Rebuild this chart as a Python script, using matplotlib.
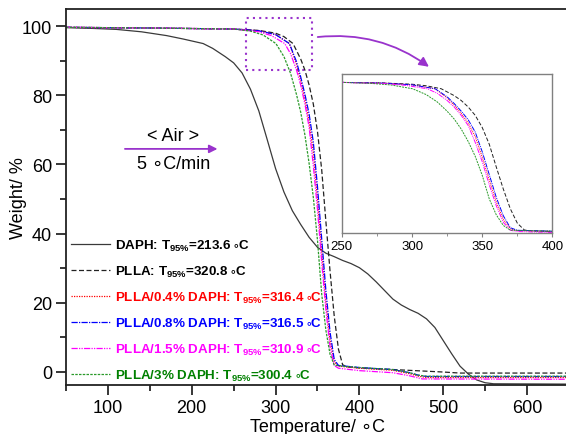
import matplotlib
matplotlib.use("Agg")
import matplotlib.pyplot as plt
from matplotlib.patches import Rectangle, FancyArrowPatch
from matplotlib.ticker import MultipleLocator

plt.rcParams["font.family"] = ["Liberation Sans", "DejaVu Sans"]
plt.rcParams["mathtext.fontset"] = "custom"
plt.rcParams["mathtext.rm"] = "Liberation Sans"
plt.rcParams["mathtext.bf"] = "Liberation Sans:bold"
plt.rcParams["mathtext.fallback"] = "stixsans"

# TGA curves, temperature (°C) vs residual weight (%)
daph_t = [50, 80, 110, 140, 170, 190, 213.6, 225, 240, 250, 260, 270, 280, 290, 300,
          310, 320, 330, 340, 350, 360, 370, 380, 390, 400, 410, 420, 430, 440, 450,
          460, 470, 480, 490, 500, 510, 520, 530, 540, 550, 560, 650]
daph_w = [99.6, 99.4, 99.1, 98.4, 97.3, 96.3, 95.0, 93.6, 91.2, 89.4, 86.5, 81.8, 75.5, 67.2, 58.8,
          52.0, 46.6, 42.6, 38.9, 36.0, 34.3, 33.3, 32.2, 31.3, 30.1, 28.3, 26.0, 23.5, 21.0, 19.3,
          18.0, 16.9, 15.3, 12.8, 9.0, 5.2, 1.6, -0.7, -2.4, -3.2, -3.5, -3.6]

plla_t = [50, 150, 250, 280, 300, 310, 320.8, 330, 335, 340, 345, 350, 355, 360, 365,
          370, 375, 380, 385, 400, 450, 500, 520, 650]
plla_w = [99.7, 99.5, 99.2, 98.8, 98.0, 97.0, 95.0, 90.5, 87.3, 83.0, 77.5, 69.5, 58.5, 43.5, 29.0,
          16.0, 6.5, 2.0, 1.4, 1.1, 0.5, -0.1, -0.4, -0.4]

p04_t = [50, 150, 250, 280, 300, 316.4, 325, 330, 335, 340, 345, 350, 355, 360, 365,
         370, 375, 400, 440, 460, 470, 480, 650]
p04_w = [99.7, 99.5, 99.2, 98.7, 97.6, 95.0, 89.0, 84.3, 78.8, 72.4, 63.5, 50.0, 35.0, 20.5, 9.0,
         2.8, 1.6, 1.0, 0.4, -0.6, -1.3, -1.7, -1.7]

p08_t = [50, 150, 250, 280, 300, 316.5, 325, 330, 335, 340, 345, 350, 355, 360, 365,
         370, 375, 400, 440, 460, 470, 480, 650]
p08_w = [99.7, 99.5, 99.2, 98.7, 97.6, 95.0, 89.7, 85.3, 80.3, 74.6, 66.5, 53.5, 38.5, 23.5, 11.4,
         3.5, 1.8, 1.2, 0.6, -0.3, -1.0, -1.4, -1.4]

p15_t = [50, 150, 250, 280, 295, 310.9, 318, 325, 330, 335, 340, 345, 350, 355, 360,
         365, 370, 375, 400, 440, 460, 475, 650]
p15_w = [99.7, 99.5, 99.2, 98.4, 97.3, 95.0, 92.0, 87.3, 83.0, 77.5, 70.8, 59.7, 47.0, 31.8, 18.0,
         7.1, 1.8, 1.0, 0.3, -0.3, -1.2, -2.1, -2.2]

p3_t = [50, 150, 250, 270, 285, 300.4, 310, 318, 325, 330, 335, 340, 345, 350, 355,
        360, 365, 370, 380, 400, 440, 460, 470, 480, 650]
p3_w = [99.7, 99.5, 99.2, 98.6, 97.5, 95.0, 91.2, 86.3, 80.2, 75.1, 68.5, 60.3, 50.5, 38.0, 22.5,
        12.0, 5.0, 1.9, 1.6, 1.2, 0.6, -0.3, -1.0, -1.3, -1.3]

names = ["DAPH", "PLLA", "PLLA/0.4% DAPH", "PLLA/0.8% DAPH", "PLLA/1.5% DAPH", "PLLA/3% DAPH"]
t95 = ["213.6", "320.8", "316.4", "316.5", "310.9", "300.4"]

temps = [daph_t, plla_t, p04_t, p08_t, p15_t, p3_t]
weights = [daph_w, plla_w, p04_w, p08_w, p15_w, p3_w]
line_colors = ["#3a3a3a", "#222222", "red", "blue", "magenta", "#2a9a2a"]
text_colors = ["black", "black", "red", "blue", "magenta", "green"]
styles = ["-", (0, (4, 2)), (0, (1, 1)), (0, (5, 1, 1, 1)), (0, (5, 1, 1, 1, 1, 1)), (0, (2, 1))]

purple = "#9933cc"

fig = plt.figure(figsize=(5.66, 4.35), dpi=100)
ax = fig.add_axes([0.1166, 0.1115, 0.8887, 0.8655])

for t, w, name, tv, c, ls in zip(temps, weights, names, t95, line_colors, styles):
    label = name + ": T$_{\\mathbf{95\\%}}$=" + tv + " $\\circ$C"
    ax.plot(t, w, color=c, linestyle=ls, lw=0.9, label=label)

ax.set_xlim(50, 650)
ax.set_ylim(-4, 105)
ax.xaxis.set_major_locator(MultipleLocator(100))
ax.xaxis.set_minor_locator(MultipleLocator(50))
ax.yaxis.set_major_locator(MultipleLocator(20))
ax.yaxis.set_minor_locator(MultipleLocator(10))
ax.tick_params(which="both", direction="out", width=1.1, labelsize=13, pad=3)
ax.tick_params(which="major", length=7)
ax.tick_params(which="minor", length=4)
for s in ax.spines.values():
    s.set_linewidth(1.3)
    s.set_color("#222222")
ax.set_xlabel("Temperature/ ∘C", fontsize=13, labelpad=1)
ax.set_ylabel("Weight/ %", fontsize=13)
ax.yaxis.set_label_coords(-0.078, 0.5)

leg = ax.legend(loc="lower left", bbox_to_anchor=(0.01, 0.006), frameon=False,
                prop={"weight": "bold", "size": 9.6}, handlelength=2.9,
                handletextpad=0.4, labelspacing=0.82, borderpad=0, borderaxespad=0,
                labelcolor=text_colors)

# heating-rate note
ax.annotate("", xy=(234, 64.5), xytext=(117, 64.5),
            arrowprops=dict(arrowstyle="-|>", color=purple, lw=1.3, mutation_scale=12))
ax.text(178, 68.3, "< Air >", fontsize=13, ha="center", va="center")
ax.text(178, 60.2, "5 ∘C/min", fontsize=13, ha="center", va="center")

# zoomed region marker and pointer to the inset
ax.add_patch(Rectangle((265, 87.2), 78, 15.1, fill=False, edgecolor=purple,
                       lw=1.5, linestyle=(0, (1, 2))))
ax.add_patch(FancyArrowPatch((347, 96.8), (485.6, 87.8), connectionstyle="arc3,rad=-0.2",
                             arrowstyle="-|>", mutation_scale=14, color=purple, lw=1.3))

# inset: PLLA-based samples only
axin = fig.add_axes([0.604, 0.462, 0.372, 0.3655])
for t, w, c, ls in zip(temps[1:], weights[1:], line_colors[1:], styles[1:]):
    axin.plot(t, w, color=c, linestyle=ls, lw=0.7)
axin.set_xlim(250, 400)
axin.set_ylim(0, 104.7)
axin.set_yticks([])
axin.xaxis.set_major_locator(MultipleLocator(50))
axin.xaxis.set_minor_locator(MultipleLocator(25))
axin.tick_params(which="both", direction="out", labelsize=9.5, pad=2, color="#808080")
axin.tick_params(which="major", length=3)
axin.tick_params(which="minor", length=2)
for s in axin.spines.values():
    s.set_color("#808080")
    s.set_linewidth(1.0)

fig.savefig("out.png", dpi=100)
